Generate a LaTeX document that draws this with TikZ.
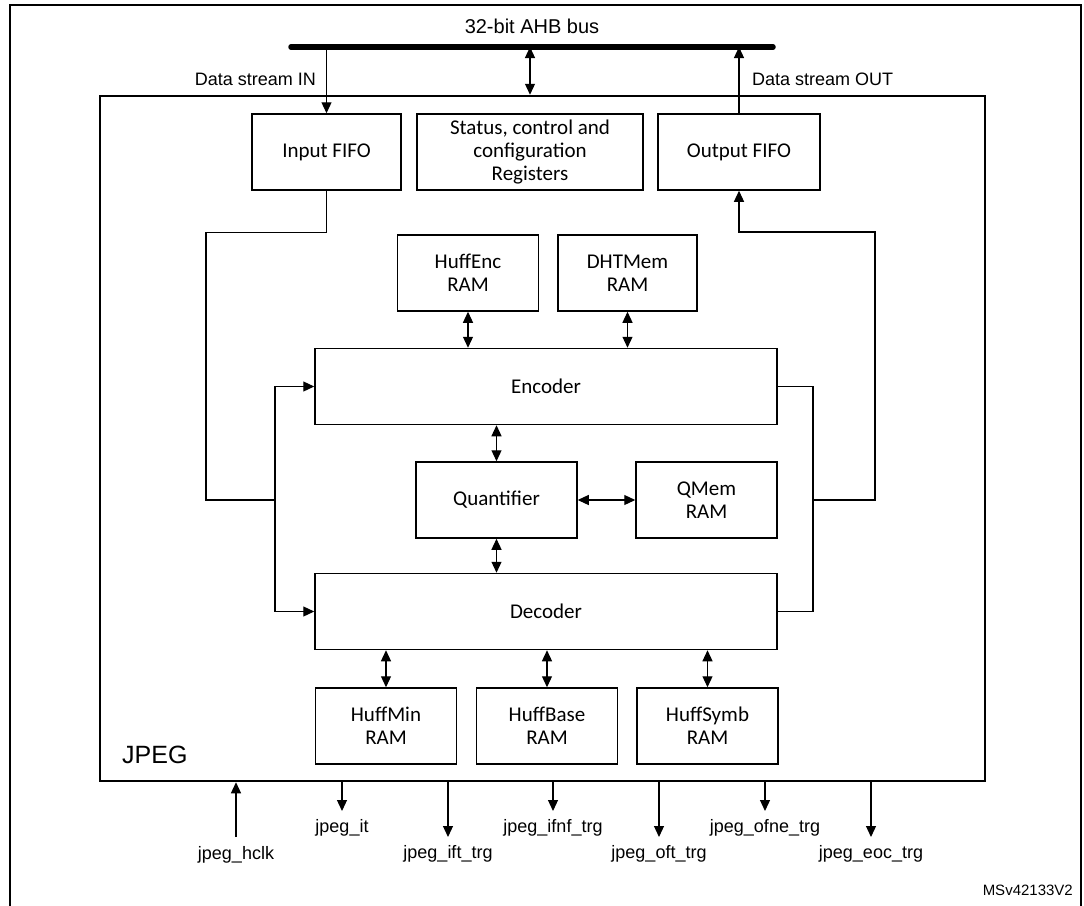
\documentclass[tikz,border=0pt]{standalone}
\usepackage{fontspec}
\setmainfont{Carlito}
\newfontfamily\arialfont{Liberation Sans}
\usetikzlibrary{arrows.meta,positioning,calc}

\begin{document}
\begin{tikzpicture}[
  x=1pt, y=-1pt,
  font=\fontsize{21}{23}\selectfont,
  block/.style={draw, line width=1.5pt, align=center, inner sep=0pt, minimum height=76pt},
  ram/.style={block, minimum width=141pt},
  wide/.style={block, minimum width=462pt},
  sigtxt/.style={font=\arialfont\fontsize{18}{20}\selectfont, inner sep=1pt},
  link/.style={line width=1.2pt},
  arrow/.style={link, -{Triangle[length=11pt,width=10pt]}},
  biarrow/.style={link, {Triangle[length=11pt,width=10pt]}-{Triangle[length=11pt,width=10pt]}},
  bus/.style={line width=5.5pt, line cap=round}
]
  \useasboundingbox (0,0) rectangle (1084,905);
  \draw[line width=2.5pt] (10,906) -- (10,5) -- (1081,5) -- (1081,906);

  % bus
  \coordinate (busL) at (291,47);
  \coordinate (busR) at (773,47);
  \draw[bus] (busL) -- (busR);
  \node[sigtxt, font=\arialfont\fontsize{20}{22}\selectfont] (buslbl) at (532,26) {32-bit AHB bus};

  % JPEG block
  \node[draw, line width=2.5pt, minimum width=885pt, minimum height=685pt, inner sep=0pt] (jpeg) at (542.5,438.5) {};
  \node[font=\arialfont\fontsize{25}{27}\selectfont, anchor=base west, inner sep=0pt] (jpeglbl) at (122,763) {JPEG};

  \node[block, minimum width=149pt] (infifo) at (326.5,152) {Input FIFO};
  \node[block, minimum width=226pt] (status) at (530,152) {Status, control and\\configuration\\Registers};
  \node[block, minimum width=162pt] (outfifo) at (739,152) {Output FIFO};

  \node[ram] (huffenc) at (468,273) {HuffEnc\\RAM};
  \node[ram, minimum width=139pt] (dhtmem) at (627.5,273) {DHTMem\\RAM};
  \node[wide] (encoder) at (546,386.5) {Encoder};
  \node[block, minimum width=161pt] (quant) at (496.5,500) {Quantifier};
  \node[ram] (qmem) at (706.5,500) {QMem\\RAM};
  \node[wide] (decoder) at (546,611.5) {Decoder};
  \node[ram] (huffmin) at (386,726) {HuffMin\\RAM};
  \node[ram] (huffbase) at (547,726) {HuffBase\\RAM};
  \node[ram] (huffsymb) at (707.5,726) {HuffSymb\\RAM};

  % bus connections
  \draw[arrow] (busL -| infifo.north) -- (infifo.north);
  \draw[biarrow] (busL -| status.north) -- (jpeg.north -| status.north);
  \draw[arrow] (outfifo.north) -- (busL -| outfifo.north);
  \node[sigtxt, anchor=east] (inlbl) at (317,79) {Data stream IN};
  \node[sigtxt, anchor=west] (outlbl) at (751,79) {Data stream OUT};

  % data paths
  \coordinate (lj) at (275,500);
  \coordinate (rj) at (813,500);
  \draw[link] (infifo.south) -- ++(0,42) -| (206,500) -- (lj);
  \draw[arrow] (lj) |- (encoder.west);
  \draw[arrow] (lj) |- (decoder.west);
  \draw[link] (encoder.east) -| (rj);
  \draw[link] (decoder.east) -| (rj);
  \draw[arrow] (rj) -| (875,232) -| (outfifo.south);

  \draw[biarrow] (huffenc.south) -- (huffenc.south |- encoder.north);
  \draw[biarrow] (dhtmem.south) -- (dhtmem.south |- encoder.north);
  \draw[biarrow] (encoder.south -| quant.north) -- (quant.north);
  \draw[biarrow] (quant) -- (qmem);
  \draw[biarrow] (quant.south) -- (quant.south |- decoder.north);
  \foreach \r in {huffmin,huffbase,huffsymb}
    \draw[biarrow] (decoder.south -| \r.north) -- (\r.north);

  % interrupts and triggers
  \coordinate (hclk) at (236,837);
  \draw[arrow] (hclk) -- (hclk |- jpeg.south);
  \node[sigtxt, below=8pt of hclk] (hclklbl) {jpeg\_hclk};
  \foreach \n/\x/\e/\t in {it/342/811/jpeg\_it, ift/448/837/jpeg\_ift\_trg,
      ifnf/553/811/jpeg\_ifnf\_trg, oft/659/837/jpeg\_oft\_trg,
      ofne/765/811/jpeg\_ofne\_trg, eoc/871/837/jpeg\_eoc\_trg} {
    \coordinate (\n) at (\x,\e);
    \draw[arrow] (jpeg.south -| \n) -- (\n);
    \node[sigtxt, below=7pt of \n] (\n lbl) {\t};
  }

  \node[font=\arialfont\fontsize{15}{17}\selectfont, anchor=base east, inner sep=0pt] (docref) at (1073,895) {MSv42133V2};
\end{tikzpicture}
\end{document}
